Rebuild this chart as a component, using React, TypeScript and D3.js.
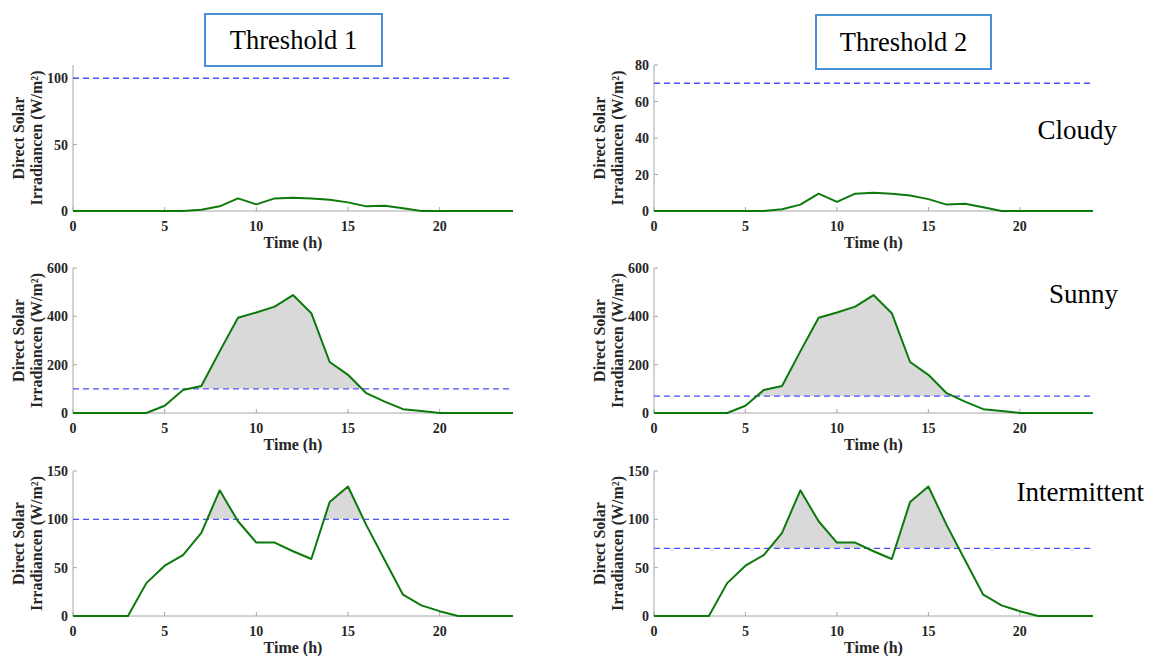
import React from "react";
import * as d3 from "d3";

const hours = [0, 1, 2, 3, 4, 5, 6, 7, 8, 9, 10, 11, 12, 13, 14, 15, 16, 17, 18, 19, 20, 21, 22, 23, 24];
const cloudy = [0, 0, 0, 0, 0, 0, 0, 1, 3.5, 9.5, 5, 9.5, 10, 9.5, 8.5, 6.5, 3.5, 4, 2, 0, 0, 0, 0, 0, 0];
const sunny = [0, 0, 0, 0, 0, 30, 95, 112, 255, 394, 416, 440, 488, 413, 211, 158, 82, 47, 16, 8, 0, 0, 0, 0, 0];
const intermittent = [0, 0, 0, 0, 34, 52, 63, 86, 130, 98, 76, 76, 67, 59, 118, 134, 94, 58, 22, 11, 5, 0, 0, 0, 0];

const thresholds = [100, 70];
const columnTitles = ["Threshold 1", "Threshold 2"];
const weatherNames = ["Cloudy", "Sunny", "Intermittent"];
const xTicks = [0, 5, 10, 15, 20];

// y domain + ticks per row/col
const yMax = [[110, 80], [600, 600], [150, 150]];
const yTicks = [
  [[0, 50, 100], [0, 20, 40, 60, 80]],
  [[0, 200, 400, 600], [0, 200, 400, 600]],
  [[0, 50, 100, 150], [0, 50, 100, 150]],
];
const series = [cloudy, sunny, intermittent];

const colX = [[73, 513], [654, 1093]];
const rowY = [[65, 211], [268, 413], [471, 616]];
const serif = "'Liberation Serif', 'Times New Roman', serif";

function Panel({ row, col }: { row: number; col: number }) {
  const values = series[row];
  const thr = thresholds[col];
  const [x0, x1] = colX[col];
  const [yt, yb] = rowY[row];
  const x = d3.scaleLinear().domain([0, 24]).range([x0, x1]);
  const y = d3.scaleLinear().domain([0, yMax[row][col]]).range([yb, yt]);
  const pts = hours.map((h, i) => [h, values[i]] as [number, number]);
  const line = d3.line<[number, number]>().x((d) => x(d[0])).y((d) => y(d[1]));
  const area = d3
    .area<[number, number]>()
    .x((d) => x(d[0]))
    .y0(y(thr))
    .y1((d) => y(d[1]));
  const clipId = `clip-${row}-${col}`;
  const midY = (yt + yb) / 2;
  const labX = x0 - 49;
  return (
    <g>
      <defs>
        <clipPath id={clipId}>
          <rect x={x0} y={yt - 10} width={x1 - x0} height={y(thr) - yt + 10} />
        </clipPath>
      </defs>
      <path d={area(pts) || ""} fill="#d9d9d9" clipPath={`url(#${clipId})`} />
      {/* axes */}
      <line x1={x0} x2={x0} y1={yt} y2={yb} stroke="#a6a6a6" strokeWidth={1} />
      <line x1={x0} x2={x1} y1={yb} y2={yb} stroke="#a6a6a6" strokeWidth={1} />
      {yTicks[row][col].map((t) => (
        <g key={"y" + t}>
          <line x1={x0} x2={x0 + 4} y1={y(t)} y2={y(t)} stroke="#a6a6a6" />
          <text x={x0 - 5} y={y(t) + 5} textAnchor="end" fontFamily={serif} fontWeight="bold" fontSize={14} fill="#262626">
            {t}
          </text>
        </g>
      ))}
      {xTicks.map((t) => (
        <g key={"x" + t}>
          <line x1={x(t)} x2={x(t)} y1={yb} y2={yb - 4} stroke="#a6a6a6" />
          <text x={x(t)} y={yb + 20} textAnchor="middle" fontFamily={serif} fontWeight="bold" fontSize={14} fill="#262626">
            {t}
          </text>
        </g>
      ))}
      <line
        x1={x(0)}
        x2={x(24)}
        y1={y(thr)}
        y2={y(thr)}
        stroke="#4f4fff"
        strokeWidth={1.3}
        strokeDasharray="6,4"
      />
      <path d={line(pts) || ""} fill="none" stroke="#0b7a0b" strokeWidth={2} strokeLinejoin="round" />
      <text x={(x0 + x1) / 2} y={yb + 37} textAnchor="middle" fontFamily={serif} fontWeight="bold" fontSize={16} fill="#262626">
        Time (h)
      </text>
      <text
        transform={`translate(${labX},${midY}) rotate(-90)`}
        textAnchor="middle"
        fontFamily={serif}
        fontWeight="bold"
        fontSize={16}
        fill="#262626"
      >
        Direct Solar
      </text>
      <text
        transform={`translate(${labX + 18},${midY}) rotate(-90)`}
        textAnchor="middle"
        fontFamily={serif}
        fontWeight="bold"
        fontSize={16}
        fill="#262626"
      >
        Irradiancen (W/m²)
      </text>
    </g>
  );
}

const titleBoxes = [
  { x: 205, y: 14, w: 177, h: 52 },
  { x: 816, y: 15, w: 175, h: 54 },
];
const namePos = [
  { x: 1117, y: 139 },
  { x: 1118, y: 303 },
  { x: 1144, y: 501 },
];

export default function App() {
  return (
    <svg width={1150} height={656} style={{ position: "absolute", left: 0, top: 0, background: "#fff" }}>
      {columnTitles.map((t, i) => {
        const b = titleBoxes[i];
        return (
          <g key={t}>
            <rect x={b.x} y={b.y} width={b.w} height={b.h} fill="#fff" stroke="#4a90d9" strokeWidth={2} />
            <text x={b.x + b.w / 2} y={b.y + b.h / 2 + 9} textAnchor="middle" fontFamily={serif} fontSize={26.5} fill="#000">
              {t}
            </text>
          </g>
        );
      })}
      {[0, 1, 2].map((r) =>
        [0, 1].map((c) => <Panel key={`${r}-${c}`} row={r} col={c} />)
      )}
      {weatherNames.map((n, i) => (
        <text key={n} x={namePos[i].x} y={namePos[i].y} textAnchor="end" fontFamily={serif} fontSize={27} fill="#000">
          {n}
        </text>
      ))}
    </svg>
  );
}
